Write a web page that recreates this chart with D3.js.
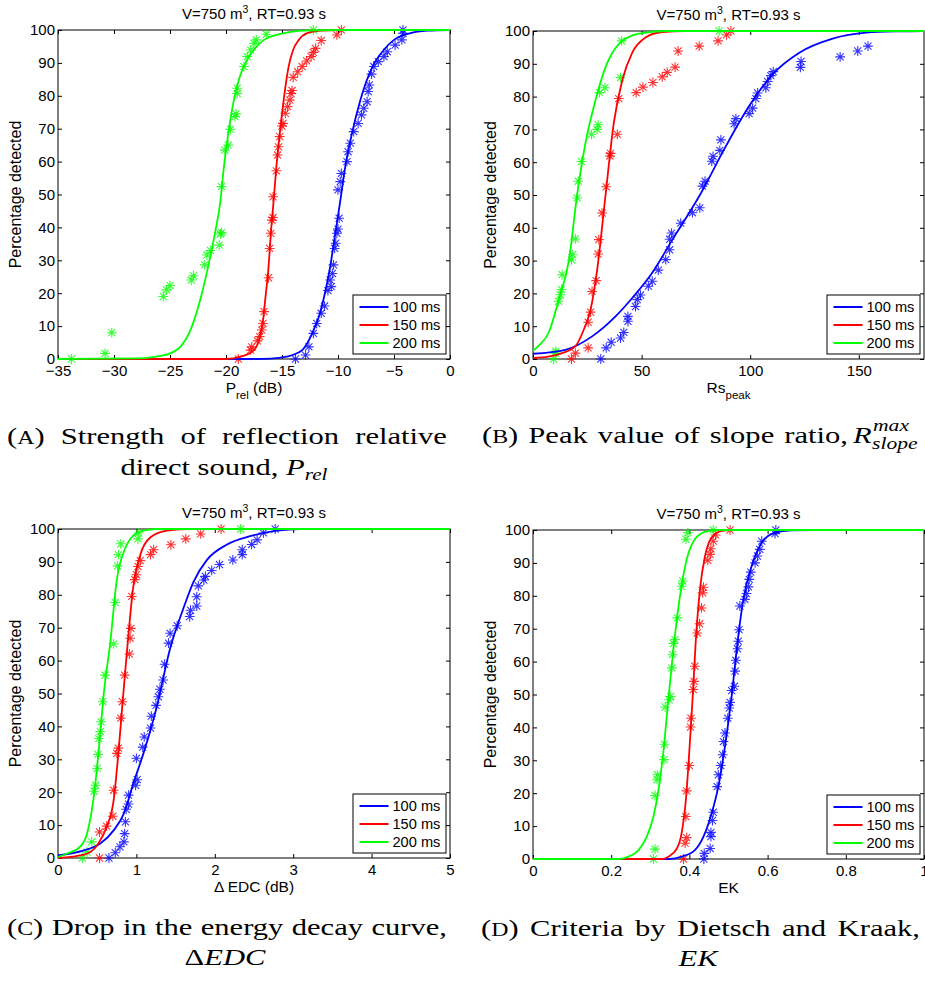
<!DOCTYPE html>
<html>
<head>
<meta charset="utf-8">
<script src="https://cdn.jsdelivr.net/npm/d3@7"></script>
<style>
  body { margin: 0; background: #fff; }
  svg text { font-family: "Liberation Sans", Arial, Helvetica, sans-serif; }
  svg text.cap { font-family: "Liberation Serif", "Times New Roman", serif; }
</style>
</head>
<body>
<script>
// legend / series
var seriesNames = ["100 ms", "150 ms", "200 ms"];
var seriesColors = ["#0000ff", "#ff0000", "#00ff00"];
var yTicks = [0, 10, 20, 30, 40, 50, 60, 70, 80, 90, 100];

// (A) P_rel -- measured points [x, %]
var prelPts100 = [[-13.8,0],[-12.9,1.2],[-12.6,3.7],[-12.2,7.8],[-11.9,10.8],[-11.5,13.9],[-11.2,16.1],[-10.9,20.8],[-10.6,22],[-10.7,24],[-10.5,26],[-10.4,28.6],[-10.3,33.6],[-10.2,35.2],[-10.1,38.2],[-10.0,39.5],[-9.9,42.8],[-10.0,51.4],[-9.8,53.9],[-9.7,56.4],[-9.2,60],[-9.1,63],[-8.9,65.6],[-8.6,69.1],[-8.2,71.6],[-7.9,74.2],[-7.7,76.2],[-7.4,78.2],[-7.3,81.3],[-7.2,83.3],[-7.0,86.6],[-6.8,88.9],[-6.4,90.4],[-5.9,91.9],[-5.6,93.4],[-4.9,95.4],[-4.3,97],[-4.2,99],[-4.2,100]];
var prelPts150 = [[-18.9,0],[-17.8,2.7],[-17.7,3.7],[-17.2,5.5],[-17.0,6.8],[-16.8,8.8],[-16.7,10.8],[-16.6,14.4],[-16.2,24.7],[-16.1,33.6],[-16.0,38.2],[-15.9,42.2],[-15.8,43],[-15.8,49.3],[-15.5,57.2],[-15.4,62],[-15.3,64.5],[-15.2,67.6],[-15.0,70.8],[-14.9,71.6],[-14.7,74.7],[-14.5,76.7],[-14.3,78.7],[-14.2,80.7],[-14.1,81.6],[-14.0,85.6],[-13.6,87.3],[-13.2,88.9],[-12.8,90.6],[-12.4,91.9],[-12.2,93.2],[-12.0,94.4],[-11.5,96.8],[-10.1,98.5],[-9.7,100]];
var prelPts200 = [[-33.8,0],[-30.8,1.7],[-30.2,8],[-25.6,19],[-25.3,21],[-25.0,22.3],[-23.1,24],[-22.9,25.3],[-21.9,28.6],[-21.7,31.6],[-21.4,33],[-20.6,34.6],[-20.5,38],[-20.4,38.4],[-20.4,52.4],[-20.1,63.5],[-19.8,65],[-19.6,69.8],[-19.2,73.7],[-19.1,74.5],[-19.0,80.7],[-19.0,82.3],[-18.4,88.9],[-18.1,91.9],[-17.8,93.9],[-17.5,95.9],[-17.3,97],[-16.4,98.7],[-12.2,100]];
// (A) fitted curves
var prelFit100 = [[-35,0],[-18,0],[-16,0.1],[-14.6,0.7],[-13.2,2.7],[-12.3,7.8],[-11.7,12.9],[-11.3,18],[-10.7,28],[-10.25,38],[-9.8,48],[-9.35,58.5],[-8.75,68.6],[-8,78.7],[-6.9,89],[-5.9,94],[-5,97],[-3.6,99],[-2,99.8],[0,100]];
var prelFit150 = [[-35,0],[-20,0],[-18.7,0.7],[-17.5,2.7],[-16.9,7.8],[-16.65,12.9],[-16.5,18],[-16.2,28],[-16,38],[-15.75,48],[-15.5,58.5],[-15.2,68.6],[-14.85,78.7],[-14.65,83.8],[-14.4,89],[-14,94],[-13.5,97],[-12.8,99],[-11.5,99.8],[-10,100],[0,100]];
var prelFit200 = [[-35,0],[-28,0.2],[-26.5,0.6],[-25,1.7],[-24,4],[-23.3,7.8],[-22.3,18],[-21.6,28],[-21,38],[-20.5,48],[-20.2,58],[-19.8,68.6],[-19.3,78.7],[-18.8,85.5],[-18.4,89],[-17.5,94],[-16.6,97],[-14.9,99],[-13,99.8],[-10,100],[0,100]];

// (B) Rs_peak
var rsPts100 = [[31.2,0],[33.7,3.4],[36,5.1],[40.3,6.4],[41.8,8.1],[43.7,11.5],[43.7,13],[47.2,16],[48,18.1],[49.5,19.5],[53.1,22.2],[54.9,23.7],[57.7,27.1],[61.1,30.3],[62.9,33.3],[62.9,36.5],[63.8,38.4],[68,41.4],[73.4,44.6],[76.8,46.1],[78,52.7],[79.2,54.2],[82.3,60.3],[82.9,61.8],[86,63.6],[86.5,66.8],[92.6,71.7],[93.4,73.3],[99.5,74.8],[101.1,76.5],[102.6,79.4],[103.4,81.1],[107.2,82.7],[108,84.6],[109.5,86.4],[110.6,87.6],[123.1,88.9],[123.4,90.7],[141.4,92.1],[149.5,93.9],[154.2,95.4]];
var rsPts150 = [[17.7,0],[19.5,1.8],[25.4,3.4],[25.4,11.2],[26.5,14.3],[27.2,20.6],[29.1,23.9],[30,32],[30.3,36.4],[31.8,44.5],[33.7,52.5],[35.7,62.7],[35.4,61.9],[38.8,68.5],[39.5,79.4],[47.5,81.2],[50.6,82.9],[55.2,84.3],[59.5,86],[61.8,87.4],[65.4,89],[66.8,93.9],[76.5,95.4],[85.2,97],[89.1,98.8],[91.1,100]];
var rsPts200 = [[9.5,0],[10.3,1.8],[10.6,2.3],[11.8,17.6],[12.6,19.6],[13.1,21.2],[13.4,25.7],[17.7,30.2],[18.3,31.8],[19.5,36.6],[20.3,49.1],[20.8,54.2],[22.3,60.2],[26.9,68.5],[29.5,70],[30,71.4],[30.6,81.2],[33.1,82.7],[40.3,85.8],[40.8,97],[85.7,100]];
var rsFit100 = [[0,1.6],[14.9,2.8],[27.2,6.9],[38,13],[45.7,18.6],[54.9,26.3],[64.2,36.4],[76.5,49.6],[88.8,64.9],[99.5,77.1],[110.3,86.8],[122.6,93.4],[138,97.7],[153.4,99.5],[168.8,99.9],[180,100]];
var rsFit150 = [[0,0.3],[7,0.7],[13.4,1.8],[19.5,3.9],[23.4,9],[26.5,15],[29.5,27],[33.4,50],[37.2,72],[41.1,85],[45.7,93.4],[51.8,98],[59.5,99.7],[70,100],[180,100]];
var rsFit200 = [[0,2.5],[3,4.3],[7.2,8],[11.8,18],[16.5,30],[20.3,50],[24.2,66],[28.8,79],[33.4,89],[39.5,96],[48.8,99.2],[61,100],[180,100]];

// (C) Delta EDC
var edcPts100 = [[0.65,0],[0.73,1.6],[0.79,3.4],[0.84,4.9],[0.85,7.4],[0.86,11],[0.87,14.8],[0.9,16.4],[0.9,19.1],[0.99,22.1],[1.01,23.8],[1.0,30.3],[1.08,33.7],[1.1,36.8],[1.18,39.5],[1.19,43.1],[1.25,46.4],[1.28,49],[1.3,51.3],[1.34,54.1],[1.36,58.9],[1.41,65.3],[1.43,68.3],[1.52,70.6],[1.68,73.4],[1.69,75.3],[1.77,76.6],[1.77,79.4],[1.79,82.7],[1.86,84.5],[1.88,85.6],[1.96,87.4],[2.06,89.2],[2.23,90.6],[2.35,92.2],[2.35,93.7],[2.47,95.3],[2.54,96.7],[2.62,98.8],[2.77,100]];
var edcPts150 = [[0.53,0],[0.53,7.9],[0.62,9.7],[0.7,12.7],[0.71,20.6],[0.75,31.8],[0.77,33.4],[0.8,42.5],[0.82,47.5],[0.85,55.6],[0.91,62],[0.92,66.8],[0.93,69.8],[0.94,79.5],[0.98,84.6],[1.0,86.1],[1.02,88.6],[1.05,90.4],[1.18,92.2],[1.22,93.7],[1.44,95.2],[1.63,97],[1.82,98.5],[2.08,100]];
var edcPts200 = [[0.31,0],[0.37,1.8],[0.43,4.9],[0.46,20.3],[0.48,22.1],[0.5,27.2],[0.51,31.5],[0.52,36.3],[0.54,38.4],[0.55,41.4],[0.57,47.5],[0.6,55.6],[0.71,65.1],[0.73,77.7],[0.76,88.8],[0.77,92.2],[0.8,95.5],[1.02,97],[1.03,98.8],[2.33,100]];
var edcFit100 = [[0,0.8],[0.33,2.3],[0.54,4.4],[0.71,8.4],[0.84,13.5],[0.96,22.6],[1.09,31.8],[1.26,46],[1.43,63.7],[1.6,75.9],[1.73,84],[1.9,90.6],[2.15,95.2],[2.45,97.8],[2.79,99.5],[3.09,100],[5,100]];
var edcFit150 = [[0,0],[0.33,1],[0.5,3.9],[0.62,9.4],[0.71,17.6],[0.77,31.8],[0.83,49],[0.9,68.3],[0.96,82.5],[1.05,92.2],[1.18,97.5],[1.39,99.5],[1.64,100],[5,100]];
var edcFit200 = [[0,0.3],[0.11,1.3],[0.28,3.4],[0.37,7.4],[0.45,17.5],[0.52,32.8],[0.58,49],[0.67,66.2],[0.75,84.5],[0.85,93.7],[0.96,98],[1.09,99.5],[1.26,100],[5,100]];

// (D) EK
var ekPts100 = [[0.437,0],[0.438,1.7],[0.453,3.2],[0.455,6.8],[0.455,8.1],[0.459,11.7],[0.461,14.2],[0.471,22],[0.474,25.6],[0.48,28.4],[0.485,31.7],[0.487,35.7],[0.491,38.3],[0.498,42.8],[0.502,45.9],[0.504,47.6],[0.508,51.2],[0.515,52.5],[0.517,57.1],[0.519,60.4],[0.523,63.9],[0.525,66.2],[0.527,69.7],[0.529,76.9],[0.542,78.9],[0.546,80.7],[0.551,82.7],[0.553,85],[0.557,87.2],[0.568,90],[0.574,92.1],[0.58,94.1],[0.585,96.6],[0.619,98.9],[0.621,100]];
var ekPts150 = [[0.385,0],[0.389,4.8],[0.393,6.5],[0.391,12.9],[0.393,20.7],[0.4,28.4],[0.403,40.1],[0.404,42.8],[0.41,51.5],[0.412,54],[0.414,58.6],[0.42,68.7],[0.426,71.5],[0.431,76.3],[0.434,80.9],[0.436,82.6],[0.447,90.8],[0.453,92.6],[0.455,94.3],[0.461,96.6],[0.467,98.5],[0.504,100]];
var ekPts200 = [[0.308,0],[0.312,3],[0.312,19.3],[0.317,24.1],[0.318,25.6],[0.335,30.2],[0.336,34.9],[0.338,46.2],[0.348,48.4],[0.352,49.4],[0.355,58.1],[0.357,62.1],[0.359,65.5],[0.363,66.7],[0.369,73.3],[0.38,82.9],[0.383,84.5],[0.391,97.2],[0.396,99.2],[0.461,100]];
var ekFit100 = [[0,0],[0.35,0],[0.38,0.7],[0.414,2.7],[0.436,6.8],[0.457,13.9],[0.474,22],[0.491,34.2],[0.508,49.4],[0.521,63.7],[0.538,78.9],[0.559,89],[0.585,96.1],[0.619,99.2],[0.661,99.9],[0.72,100],[1,100]];
var ekFit150 = [[0,0],[0.33,0],[0.346,0.7],[0.368,3.2],[0.38,7.8],[0.391,18],[0.399,31.2],[0.408,48.4],[0.416,65.7],[0.427,82],[0.44,92.1],[0.457,97.7],[0.483,99.7],[0.508,100],[1,100]];
var ekFit200 = [[0,0],[0.22,0],[0.244,0.7],[0.27,2.7],[0.291,6.8],[0.308,12.9],[0.321,21],[0.334,33.2],[0.346,48.4],[0.359,63.7],[0.376,80],[0.393,91],[0.414,97.2],[0.44,99.4],[0.474,100],[1,100]];

var prelTicks = [-35, -30, -25, -20, -15, -10, -5, 0];
var rsTicks = [0, 50, 100, 150];
var edcTicks = [0, 1, 2, 3, 4, 5];
var ekTicks = [0, 0.2, 0.4, 0.6, 0.8, 1];

var tickSize = 15, labelSize = 16, titleSize = 15, legendSize = 14.6;

var svg = d3.select("body").append("svg")
    .attr("width", 925)
    .attr("height", 984);

var panels = [
  {l: 58, r: 450, t: 30, b: 359, dom: [-35, 0], ticks: prelTicks,
   fmt: function(d){ return d < 0 ? "\u2212" + Math.abs(d) : d; },
   xlab: [["P"], ["rel", "sub"], [" (dB)"]],
   fits: [prelFit100, prelFit150, prelFit200], pts: [prelPts100, prelPts150, prelPts200]},
  {l: 533, r: 924, t: 31, b: 359, dom: [0, 180], ticks: rsTicks,
   fmt: function(d){ return d; },
   xlab: [["Rs"], ["peak", "sub"]],
   fits: [rsFit100, rsFit150, rsFit200], pts: [rsPts100, rsPts150, rsPts200]},
  {l: 58, r: 450, t: 529, b: 858, dom: [0, 5], ticks: edcTicks,
   fmt: function(d){ return d; },
   xlab: [["\u0394 EDC (dB)"]],
   fits: [edcFit100, edcFit150, edcFit200], pts: [edcPts100, edcPts150, edcPts200]},
  {l: 533, r: 924, t: 530, b: 859, dom: [0, 1], ticks: ekTicks,
   fmt: function(d){ return d; },
   xlab: [["EK"]],
   fits: [ekFit100, ekFit150, ekFit200], pts: [ekPts100, ekPts150, ekPts200]}
];

// matlab style '*' marker
function star(r){
  var a = r * 0.72;
  return "M0," + (-r) + "V" + r + "M" + (-r) + ",0H" + r +
    "M" + (-a) + "," + (-a) + "L" + a + "," + a +
    "M" + (-a) + "," + a + "L" + a + "," + (-a);
}

panels.forEach(function(p){
  var x = d3.scaleLinear().domain(p.dom).range([p.l, p.r]);
  var y = d3.scaleLinear().domain([0, 100]).range([p.b, p.t]);
  var g = svg.append("g");

  //axes box
  g.append("rect")
    .attr("x", p.l).attr("y", p.t)
    .attr("width", p.r - p.l).attr("height", p.b - p.t)
    .attr("fill", "none").attr("stroke", "#000").attr("stroke-width", 1);

  var bottom = g.append("g").attr("transform", "translate(0," + p.b + ")")
    .call(d3.axisBottom(x).tickValues(p.ticks).tickFormat(p.fmt).tickSizeInner(-4).tickSizeOuter(0).tickPadding(6.5));
  var top = g.append("g").attr("transform", "translate(0," + p.t + ")")
    .call(d3.axisTop(x).tickValues(p.ticks).tickFormat("").tickSizeInner(-4).tickSizeOuter(0));
  var left = g.append("g").attr("transform", "translate(" + p.l + ",0)")
    .call(d3.axisLeft(y).tickValues(yTicks).tickSizeInner(-4).tickSizeOuter(0).tickPadding(3));
  var right = g.append("g").attr("transform", "translate(" + p.r + ",0)")
    .call(d3.axisRight(y).tickValues(yTicks).tickFormat("").tickSizeInner(-4).tickSizeOuter(0));
  [bottom, top, left, right].forEach(function(a){
    a.select(".domain").remove();
    a.attr("font-size", tickSize).attr("font-family", null);
  });

  //title
  var title = g.append("text")
    .attr("x", (p.l + p.r) / 2).attr("y", p.t - 11.5)
    .attr("text-anchor", "middle").attr("font-size", titleSize);
  title.append("tspan").text("V=750 m");
  title.append("tspan").attr("dy", -6).attr("font-size", 10.5).text("3");
  title.append("tspan").attr("dy", 6).text(", RT=0.93 s");

  //y label
  g.append("text")
    .attr("transform", "translate(" + (p.l - 37) + "," + ((p.t + p.b) / 2) + ") rotate(-90)")
    .attr("text-anchor", "middle").attr("font-size", labelSize)
    .text("Percentage detected");

  //x label
  var xl = g.append("text")
    .attr("x", (p.l + p.r) / 2).attr("y", p.b + 34)
    .attr("text-anchor", "middle").attr("font-size", 15.5);
  p.xlab.forEach(function(part){
    if (part[1] == "sub") {
      xl.append("tspan").attr("dy", 6).attr("font-size", 11.5).text(part[0]);
    } else {
      var t = xl.append("tspan").text(part[0]);
      if (xl.selectAll("tspan").size() > 1) t.attr("dy", -6);
    }
  });

  var line = d3.line()
    .x(function(d){ return x(d[0]); })
    .y(function(d){ return y(d[1]); })
    .curve(d3.curveMonotoneX);

  //points
  p.pts.forEach(function(pts, i){
    g.append("g").selectAll("path")
      .data(pts).enter().append("path")
      .attr("d", star(4.9))
      .attr("transform", function(d){ return "translate(" + x(d[0]) + "," + y(d[1]) + ")"; })
      .attr("fill", "none")
      .attr("stroke", seriesColors[i])
      .attr("stroke-width", 1.1)
      .attr("stroke-opacity", 0.8);
  });

  //fitted curves
  p.fits.forEach(function(f, i){
    g.append("path")
      .datum(f)
      .attr("d", line)
      .attr("fill", "none")
      .attr("stroke", seriesColors[i])
      .attr("stroke-width", 1.8);
  });

  //legend
  var lw = 93, lh = 59;
  var lx = p.r - 4 - lw, ly = p.b - 5 - lh;
  var leg = g.append("g").attr("transform", "translate(" + lx + "," + ly + ")");
  leg.append("rect").attr("width", lw).attr("height", lh)
    .attr("fill", "#fff").attr("stroke", "#000").attr("stroke-width", 1);
  seriesNames.forEach(function(name, i){
    var yy = 12 + i * 18;
    leg.append("line").attr("x1", 6.5).attr("x2", 35.5).attr("y1", yy).attr("y2", yy)
      .attr("stroke", seriesColors[i]).attr("stroke-width", 2);
    leg.append("text").attr("x", 39.5).attr("y", yy + 5.3).attr("font-size", legendSize).text(name);
  });
});

// ---- captions (serif, LaTeX-like) ----
var capSize = 23, capStretch = 1.33;

function capWord(parts){
  var t = svg.append("text").attr("class", "cap").attr("font-size", capSize);
  parts.forEach(function(pt){
    var s = t.append("tspan").text(pt.t);
    if (pt.sc) s.attr("font-size", capSize * 0.78);
    if (pt.it) s.attr("font-style", "italic");
    if (pt.fs) s.attr("font-size", pt.fs);
    if (pt.dy) s.attr("dy", pt.dy);
  });
  return t;
}

// spread words across [x0, x1]
function justify(words, x0, x1, y){
  var nodes = words.map(function(w){ return capWord(typeof w == "string" ? [{t: w}] : w); });
  var widths = nodes.map(function(n){ return n.node().getComputedTextLength() * capStretch; });
  var gap = (x1 - x0 - d3.sum(widths)) / (nodes.length - 1);
  var xx = x0;
  nodes.forEach(function(n, i){
    n.attr("transform", "translate(" + xx + "," + y + ") scale(" + capStretch + ",1)");
    xx += widths[i] + gap;
  });
}

function centered(parts, cx, y){
  var n = capWord(parts);
  var w = n.node().getComputedTextLength() * capStretch;
  n.attr("transform", "translate(" + (cx - w / 2) + "," + y + ") scale(" + capStretch + ",1)");
}

function placed(parts, x0, y, sx){
  capWord(parts).attr("transform", "translate(" + x0 + "," + y + ") scale(" + sx + ",1)");
}

var capA1 = [[{t: "("}, {t: "A", sc: true}, {t: ")"}], "Strength", "of", "reflection", "relative"];
var capA2 = [{t: "direct sound, "}, {t: "P", it: true}, {t: "rel", it: true, fs: 16, dy: 5}];
var capB1 = [[{t: "("}, {t: "B", sc: true}, {t: ")"}], "Peak", "value", "of", "slope", "ratio,"];
var capC1 = [[{t: "("}, {t: "C", sc: true}, {t: ")"}], "Drop", "in", "the", "energy", "decay", "curve,"];
var capC2 = [{t: "\u0394"}, {t: "EDC", it: true}];
var capD1 = [[{t: "("}, {t: "D", sc: true}, {t: ")"}], "Criteria", "by", "Dietsch", "and", "Kraak,"];
var capD2 = [{t: "EK", it: true}];

justify(capA1, 7, 447, 444);
centered(capA2, 224, 475);
justify(capB1, 482, 848, 443);
// R^max_slope
placed([{t: "R", it: true}], 853, 443, 1.33);
placed([{t: "max", it: true, fs: 16}], 873, 431, 1.35);
placed([{t: "slope", it: true, fs: 16}], 872, 449, 1.35);
justify(capC1, 7, 447, 935);
centered(capC2, 225, 965);
justify(capD1, 481, 920, 936);
centered(capD2, 698, 966);
</script>
</body>
</html>
